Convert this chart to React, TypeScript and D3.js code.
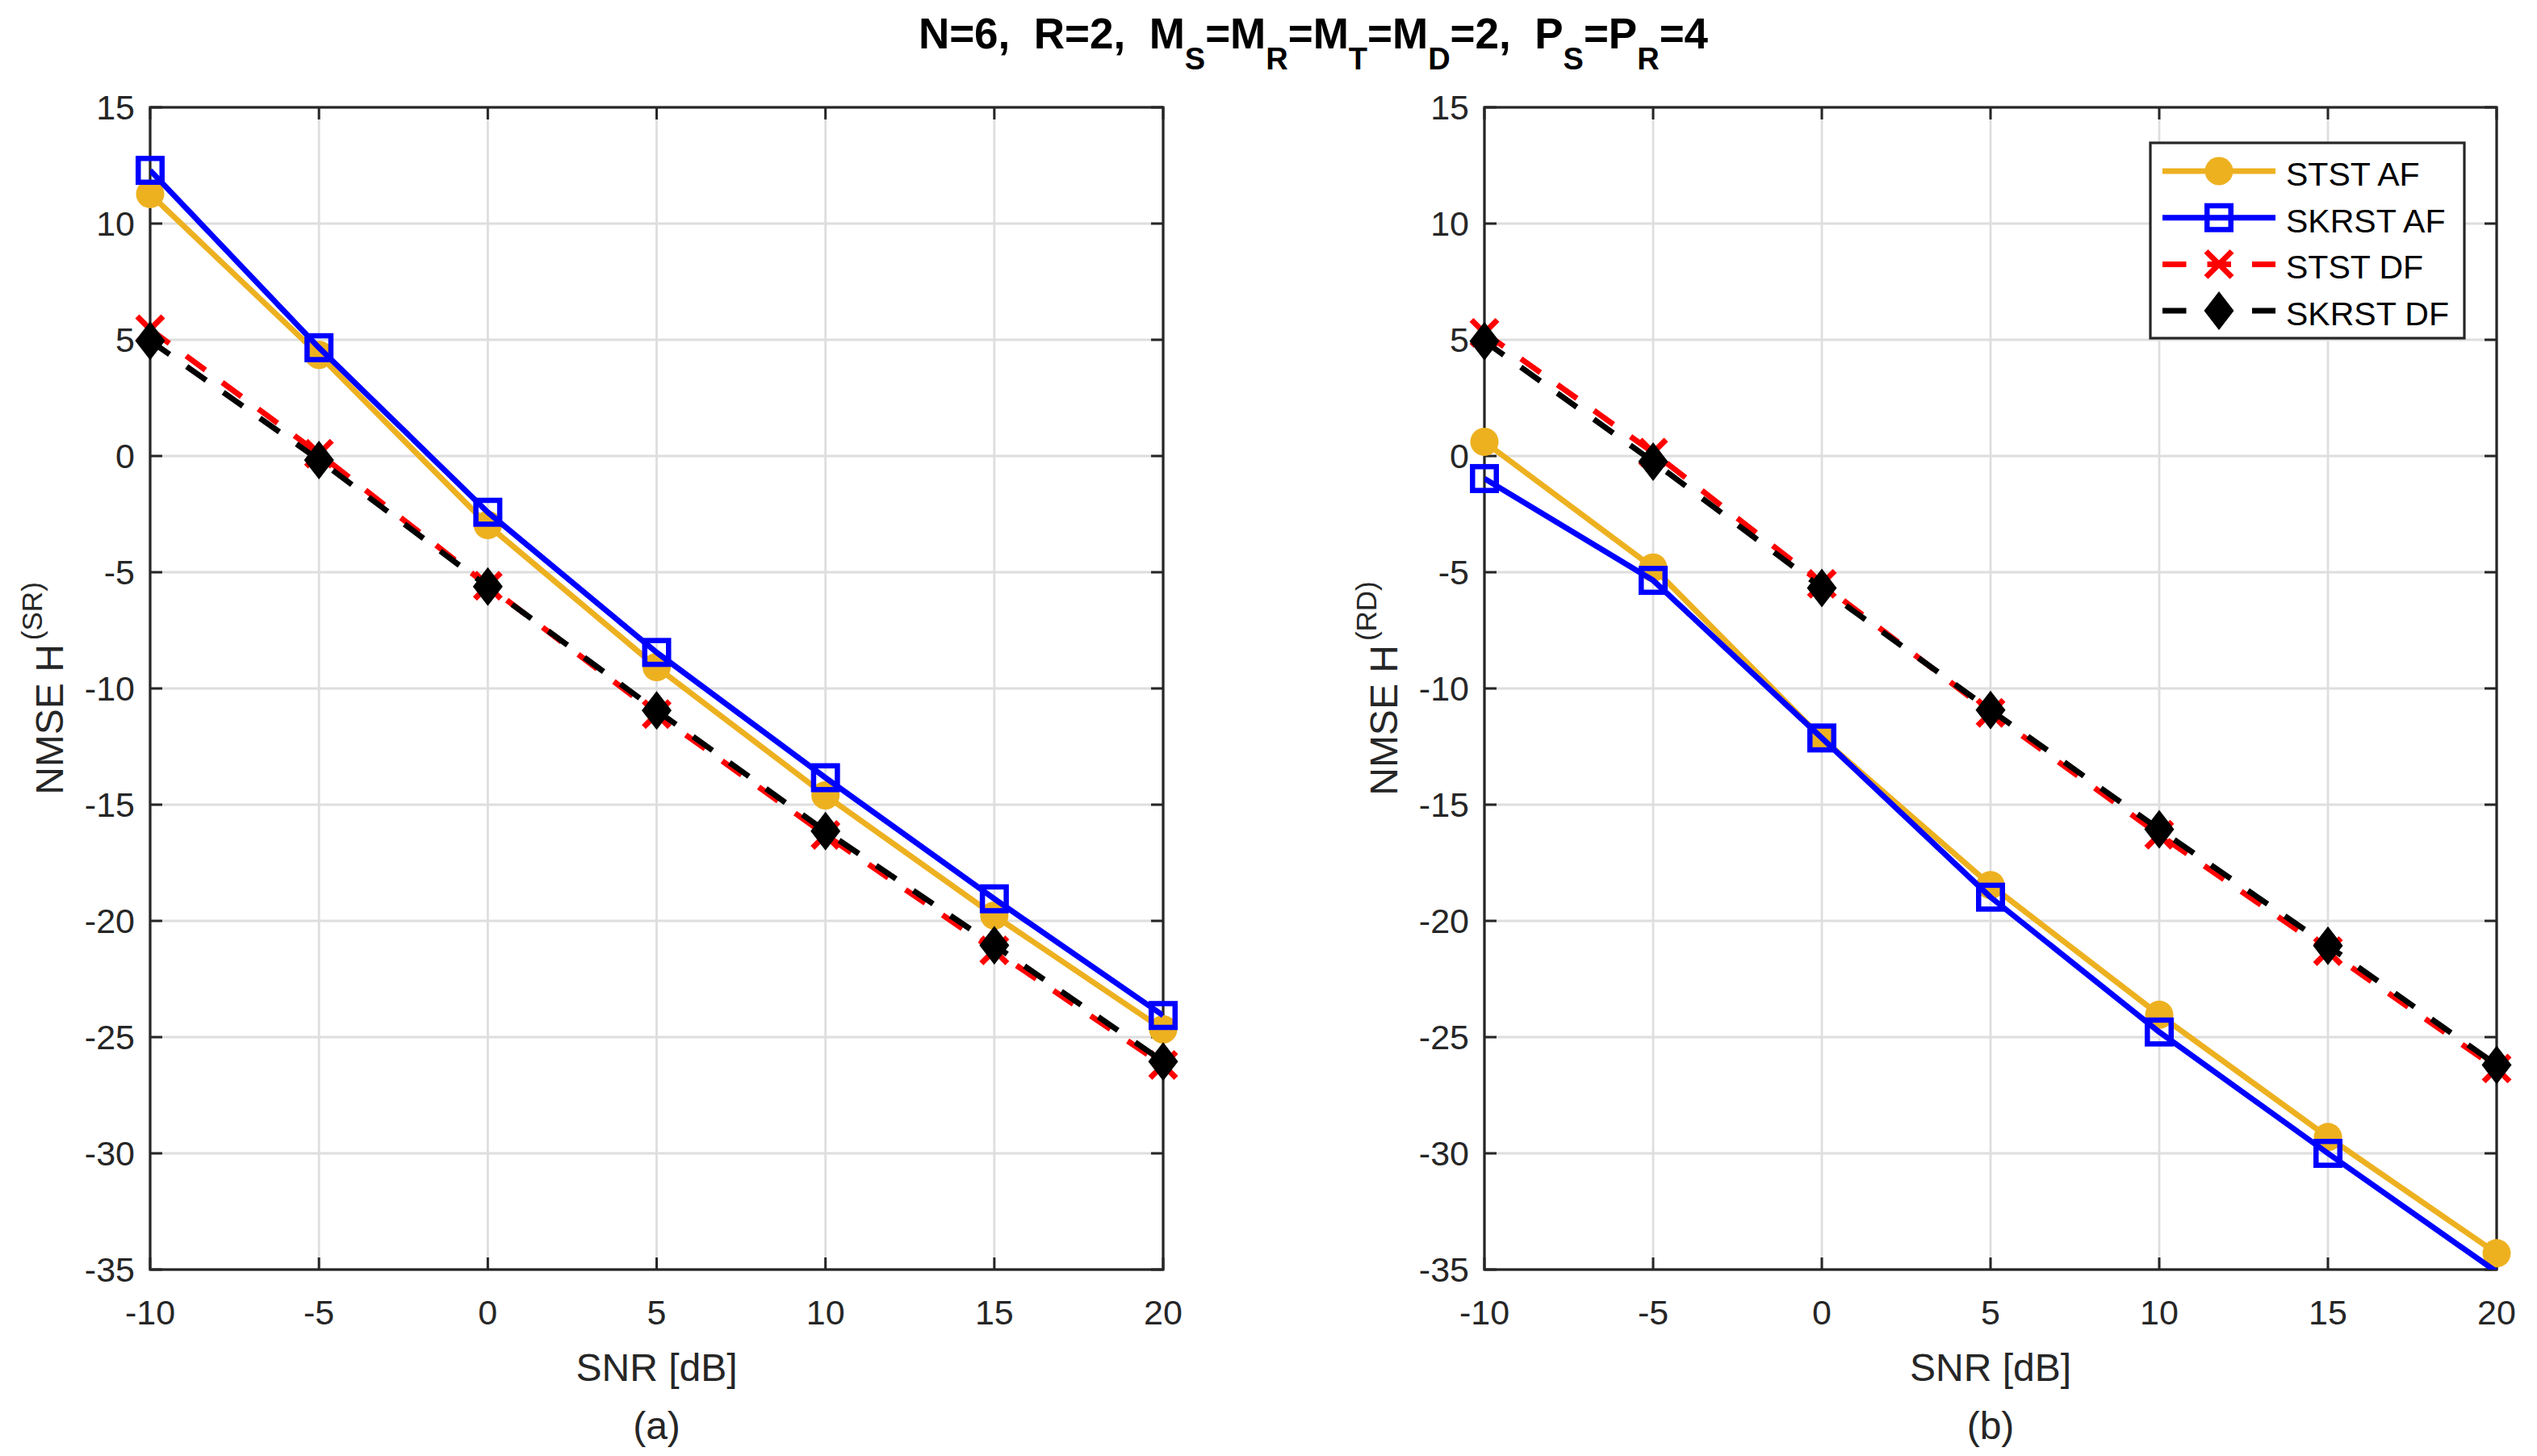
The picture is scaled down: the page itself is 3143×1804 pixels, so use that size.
import React from "react";
import * as d3 from "d3";

// ---------- data ----------
const snr = [-10, -5, 0, 5, 10, 15, 20];
const xTicks = [-10, -5, 0, 5, 10, 15, 20];
const yTicks = [-35, -30, -25, -20, -15, -10, -5, 0, 5, 10, 15];

// panel (a): H^(SR)
const ststAF_SR = [11.27, 4.35, -2.97, -9.08, -14.6, -19.77, -24.67];
const skrstAF_SR = [12.29, 4.66, -2.42, -8.45, -13.84, -19.05, -24.07];
const ststDF_SR = [5.45, 0.1, -5.58, -11.1, -16.3, -21.27, -26.2];
const skrstDF_SR = [4.96, -0.17, -5.62, -10.95, -16.14, -21.05, -26.05];

// panel (b): H^(RD)
const ststAF_RD = [0.61, -4.8, -12.14, -18.46, -24.04, -29.3, -34.3];
const skrstAF_RD = [-0.97, -5.35, -12.13, -18.98, -24.78, -30.0, -35.1];
const ststDF_RD = [5.3, 0.15, -5.5, -11.05, -16.29, -21.3, -26.35];
const skrstDF_RD = [4.94, -0.24, -5.68, -10.93, -16.06, -21.07, -26.2];

const seriesNames = ["STST AF", "SKRST AF", "STST DF", "SKRST DF"];

// ---------- styles ----------
const FONT = "'Liberation Sans', Arial, Helvetica, sans-serif";
const AX = "#262626";
const GRID = "#dedede";
const styles = [
  { color: "#EDB120", dash: null, marker: "circle" },
  { color: "#0000FF", dash: null, marker: "square" },
  { color: "#FF0000", dash: "29.5 26", marker: "x" },
  { color: "#000000", dash: "29.5 26", marker: "diamond" },
];
const LW = 7;

function Marker({ kind, cx, cy, color }: { kind: string; cx: number; cy: number; color: string }) {
  if (kind === "circle") return <circle cx={cx} cy={cy} r={17.5} fill={color} />;
  if (kind === "square")
    return <rect x={cx - 14.75} y={cy - 14.75} width={29.5} height={29.5} fill="none" stroke={color} strokeWidth={6.5} />;
  if (kind === "x") {
    const r = 16;
    return (
      <g stroke={color} strokeWidth={7}>
        <line x1={cx - r} y1={cy - r} x2={cx + r} y2={cy + r} />
        <line x1={cx - r} y1={cy + r} x2={cx + r} y2={cy - r} />
      </g>
    );
  }
  const hw = 18.5, hh = 24;
  return <path d={`M${cx},${cy - hh}L${cx + hw},${cy}L${cx},${cy + hh}L${cx - hw},${cy}Z`} fill={color} />;
}

function Panel({ x0, x1, data, sup, caption, id, legend }: any) {
  const y0 = 133, y1 = 1573;
  const x = d3.scaleLinear().domain([-10, 20]).range([x0, x1]);
  const y = d3.scaleLinear().domain([-35, 15]).range([y1, y0]);
  const line = d3.line<[number, number]>().x((d) => x(d[0])).y((d) => y(d[1]));
  const tl = 15;
  const cx = (x0 + x1) / 2;
  const cy = (y0 + y1) / 2;
  const ylx = x0 - 108;
  return (
    <g>
      <defs>
        <clipPath id={id}>
          <rect x={x0} y={y0} width={x1 - x0} height={y1 - y0} />
        </clipPath>
      </defs>
      {/* grid */}
      <g stroke={GRID} strokeWidth={2.8}>
        {xTicks.map((t) => (
          <line key={"gx" + t} x1={x(t)} x2={x(t)} y1={y0} y2={y1} />
        ))}
        {yTicks.map((t) => (
          <line key={"gy" + t} x1={x0} x2={x1} y1={y(t)} y2={y(t)} />
        ))}
      </g>
      {/* ticks */}
      <g stroke={AX} strokeWidth={3}>
        {xTicks.map((t) => (
          <g key={"tx" + t}>
            <line x1={x(t)} x2={x(t)} y1={y1} y2={y1 - tl} />
            <line x1={x(t)} x2={x(t)} y1={y0} y2={y0 + tl} />
          </g>
        ))}
        {yTicks.map((t) => (
          <g key={"ty" + t}>
            <line x1={x0} x2={x0 + tl} y1={y(t)} y2={y(t)} />
            <line x1={x1} x2={x1 - tl} y1={y(t)} y2={y(t)} />
          </g>
        ))}
      </g>
      <rect x={x0} y={y0} width={x1 - x0} height={y1 - y0} fill="none" stroke={AX} strokeWidth={3.2} />
      {/* tick labels */}
      <g fontFamily={FONT} fontSize={43} fill={AX}>
        {xTicks.map((t) => (
          <text key={"lx" + t} x={x(t)} y={1641} textAnchor="middle">
            {t}
          </text>
        ))}
        {yTicks.map((t) => (
          <text key={"ly" + t} x={x0 - 19} y={y(t) + 15} textAnchor="end">
            {t}
          </text>
        ))}
      </g>
      {/* axis labels */}
      <g fontFamily={FONT} fontSize={48} fill={AX}>
        <text x={cx} y={1711} textAnchor="middle">SNR [dB]</text>
        <text x={cx} y={1783} textAnchor="middle">{caption}</text>
        <text transform={`translate(${ylx},${cy}) rotate(-90)`} textAnchor="middle" style={{ whiteSpace: "pre" }}>
          <tspan>NMSE H</tspan>
          <tspan fontSize={35} dy={-26} dx={5}>{sup}</tspan>
        </text>
      </g>
      {/* series */}
      {data.map((vals: number[], i: number) => {
        const st = styles[i];
        const pts: [number, number][] = snr.map((s, k) => [s, vals[k]]);
        return (
          <g key={"s" + i}>
            <path
              d={line(pts) || ""}
              fill="none"
              stroke={st.color}
              strokeWidth={LW}
              strokeDasharray={st.dash || undefined}
              strokeLinejoin="round"
              clipPath={`url(#${id})`}
            />
            {pts
              .filter((p) => p[1] >= -35 && p[1] <= 15)
              .map((p, k) => (
                <Marker key={k} kind={st.marker} cx={x(p[0])} cy={y(p[1])} color={st.color} />
              ))}
          </g>
        );
      })}
      {legend && (
        <g>
          <rect x={2664} y={177} width={389} height={242} fill="#ffffff" stroke={AX} strokeWidth={3.2} />
          {seriesNames.map((name, i) => {
            const st = styles[i];
            const ry = 212 + i * 57.7;
            return (
              <g key={"lg" + i}>
                <line x1={2679} x2={2819} y1={ry} y2={ry} stroke={st.color} strokeWidth={LW} strokeDasharray={st.dash || undefined} />
                <Marker kind={st.marker} cx={2749} cy={ry} color={st.color} />
                <text x={2832} y={ry + 18} fontFamily={FONT} fontSize={41} fill="#000">
                  {name}
                </text>
              </g>
            );
          })}
        </g>
      )}
    </g>
  );
}

export default function App() {
  const sub = 38;
  const dv = 26;
  return (
    <svg
      width={3143}
      height={1804}
      style={{ position: "absolute", left: 0, top: 0, background: "#fff" }}
      xmlns="http://www.w3.org/2000/svg"
    >
      <rect width={3143} height={1804} fill="#fff" />
      <text x={1627} y={60} textAnchor="middle" fontFamily={FONT} fontSize={53} fontWeight="bold" fill="#000" style={{ whiteSpace: "pre" }}>
        <tspan>N=6,  R=2,  M</tspan>
        <tspan fontSize={sub} dy={dv}>S</tspan>
        <tspan dy={-dv}>=M</tspan>
        <tspan fontSize={sub} dy={dv}>R</tspan>
        <tspan dy={-dv}>=M</tspan>
        <tspan fontSize={sub} dy={dv}>T</tspan>
        <tspan dy={-dv}>=M</tspan>
        <tspan fontSize={sub} dy={dv}>D</tspan>
        <tspan dy={-dv}>=2,  P</tspan>
        <tspan fontSize={sub} dy={dv}>S</tspan>
        <tspan dy={-dv}>=P</tspan>
        <tspan fontSize={sub} dy={dv}>R</tspan>
        <tspan dy={-dv}>=4</tspan>
      </text>
      <Panel
        x0={186}
        x1={1441}
        id="clipA"
        data={[ststAF_SR, skrstAF_SR, ststDF_SR, skrstDF_SR]}
        sup="(SR)"
        caption="(a)"
        legend={false}
      />
      <Panel
        x0={1839}
        x1={3093}
        id="clipB"
        data={[ststAF_RD, skrstAF_RD, ststDF_RD, skrstDF_RD]}
        sup="(RD)"
        caption="(b)"
        legend={true}
      />
    </svg>
  );
}
